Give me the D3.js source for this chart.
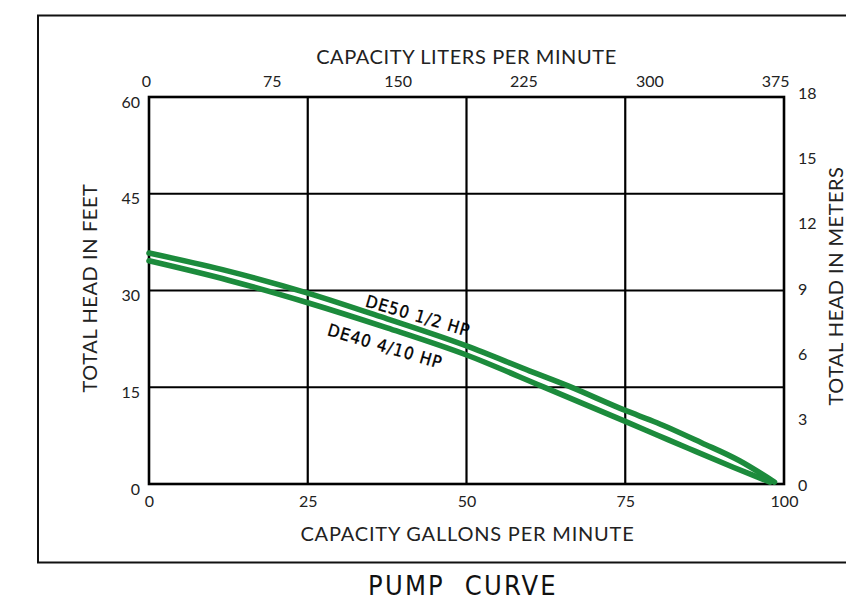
<!DOCTYPE html>
<html>
<head>
<meta charset="utf-8">
<script src="https://cdn.jsdelivr.net/npm/d3@7"></script>
<style>
  body { margin: 0; background: #fff; }
  svg { display: block; }
</style>
</head>
<body>
<svg id="chart" width="846" height="605"></svg>
<script>
// Tick values for the four axes
const gpmTicks = [0, 25, 50, 75, 100];
const feetTicks = [0, 15, 30, 45, 60];
const literTicks = [0, 75, 150, 225, 300, 375];
const meterTicks = [0, 3, 6, 9, 12, 15, 18];

// Pump curves: capacity (GPM) vs total head (feet)
const de50Gpm  = [0, 12.5, 25, 37.5, 50, 60, 66, 75, 80, 87, 93, 98.5];
const de50Feet = [35.8, 33.0, 29.6, 25.6, 21.4, 17.5, 15.2, 11.4, 9.5, 6.4, 3.6, 0.3];
const de40Gpm  = [0, 12.5, 25, 37.5, 50, 62, 75, 80, 85, 92, 97.8];
const de40Feet = [34.6, 31.6, 28.1, 24.2, 20.0, 15.1, 9.7, 7.6, 5.5, 2.6, 0.3];
const curveNames = ["DE50 1/2 HP", "DE40 4/10 HP"];

const LITERS_PER_GALLON = 3.785;

const svg = d3.select("#chart");
const plotLeft = 149, plotTop = 97, width = 635, height = 387;
const green = "#1c8b3c";
const tickFont = "Lato, 'Open Sans', sans-serif";

// Outer drawing frame (open on the right)
svg.append("path")
  .attr("d", "M846,15.5 H38 V562.5 H846")
  .attr("fill", "none")
  .attr("stroke", "#111")
  .attr("stroke-width", 2);

const g = svg.append("g").attr("transform", `translate(${plotLeft},${plotTop})`);

const x = d3.scaleLinear().domain([0, 100]).range([0, width]);
const y = d3.scaleLinear().domain([0, 60]).range([height, 0]);
const xL = d3.scaleLinear().domain([0, 100 * LITERS_PER_GALLON]).range([0, width]);
const yM = d3.scaleLinear().domain([0, 18]).range([height + 1, -4]);

// Grid
g.append("g").selectAll("line")
  .data(gpmTicks.slice(1, -1))
  .join("line")
  .attr("x1", d => x(d)).attr("x2", d => x(d))
  .attr("y1", 0).attr("y2", height)
  .attr("stroke", "#000").attr("stroke-width", 2.2);

g.append("g").selectAll("line")
  .data(feetTicks.slice(1, -1))
  .join("line")
  .attr("y1", d => y(d)).attr("y2", d => y(d))
  .attr("x1", 0).attr("x2", width)
  .attr("stroke", "#000").attr("stroke-width", 2.2);

g.append("rect")
  .attr("width", width).attr("height", height)
  .attr("fill", "none").attr("stroke", "#000").attr("stroke-width", 2.6);

// Axes
function styleAxis(sel) {
  sel.select(".domain").remove();
  sel.selectAll("text")
    .attr("font-family", tickFont)
    .attr("font-size", 16)
    .attr("fill", "#222");
}

g.append("g")
  .attr("transform", `translate(0,${height})`)
  .call(d3.axisBottom(x).tickValues(gpmTicks).tickSize(0).tickPadding(12))
  .call(styleAxis);

g.append("g")
  .call(d3.axisTop(xL).tickValues(literTicks).tickSize(0).tickPadding(10).tickFormat(d3.format("d")))
  .call(styleAxis)
  .selectAll("text").attr("transform", "translate(-3,0)");

g.append("g")
  .call(d3.axisLeft(y).tickValues(feetTicks).tickSize(0).tickPadding(9))
  .call(styleAxis)
  .selectAll("text").attr("transform", "translate(0,5)");

g.append("g")
  .attr("transform", `translate(${width},0)`)
  .call(d3.axisRight(yM).tickValues(meterTicks).tickSize(0).tickPadding(14))
  .call(styleAxis);

// Axis titles
const titleFont = "Lato, 'Open Sans', sans-serif";
function axisTitle(text, transform, spacing) {
  svg.append("text")
    .attr("transform", transform)
    .attr("text-anchor", "middle")
    .attr("font-family", titleFont).attr("font-size", 20).attr("fill", "#222")
    .attr("letter-spacing", spacing)
    .text(text);
}
axisTitle("CAPACITY LITERS PER MINUTE", `translate(${plotLeft + width / 2},64)`, 0.6);
axisTitle("CAPACITY GALLONS PER MINUTE", `translate(${plotLeft + width / 2 + 1},541)`, 0.8);
axisTitle("TOTAL HEAD IN FEET", "translate(97,288) rotate(-90)", 0.6);
axisTitle("TOTAL HEAD IN METERS", "translate(843,286) rotate(-90)", 0.5);

// Curves
const line = d3.line()
  .x(d => x(d[0]))
  .y(d => y(d[1]))
  .curve(d3.curveMonotoneX);

const series = [
  { name: curveNames[0], pts: d3.zip(de50Gpm, de50Feet) },
  { name: curveNames[1], pts: d3.zip(de40Gpm, de40Feet) }
];

g.append("g").selectAll("path")
  .data(series)
  .join("path")
  .attr("d", d => line(d.pts))
  .attr("fill", "none")
  .attr("stroke", green)
  .attr("stroke-width", 5.6)
  .attr("stroke-linecap", "round")
  .attr("stroke-linejoin", "round");

// Curve labels, set along each curve
function headAt(gpmArr, feetArr, q) {
  return d3.scaleLinear().domain(gpmArr).range(feetArr)(q);
}
const labelSpecs = [
  { text: curveNames[0], gpm: 41.8, feet: headAt(de50Gpm, de50Feet, 41.8), offset: -7 },
  { text: curveNames[1], gpm: 38, feet: headAt(de40Gpm, de40Feet, 38), offset: 24 }
];
g.append("g").selectAll("text")
  .data(labelSpecs)
  .join("text")
  .attr("transform", d => `translate(${x(d.gpm)},${y(d.feet)}) rotate(16.5) translate(0,${d.offset})`)
  .attr("text-anchor", "middle")
  .attr("font-family", "'DejaVu Sans Condensed', 'DejaVu Sans', sans-serif")
  .attr("font-stretch", "condensed")
  .attr("font-size", 17)
  .attr("letter-spacing", 1.1)
  .attr("stroke", "#000")
  .attr("stroke-width", 0.35)
  .attr("fill", "#000")
  .style("white-space", "pre")
  .text(d => d.text);

// Drawing title
svg.append("text")
  .attr("x", 463).attr("y", 595)
  .attr("text-anchor", "middle")
  .attr("font-family", "'Liberation Sans Narrow', 'DejaVu Sans Condensed', 'DejaVu Sans', sans-serif")
  .attr("font-stretch", "condensed")
  .attr("font-size", 27)
  .attr("letter-spacing", 2.2)
  .attr("fill", "#111")
  .style("white-space", "pre")
  .text("PUMP  CURVE");
</script>
</body>
</html>
